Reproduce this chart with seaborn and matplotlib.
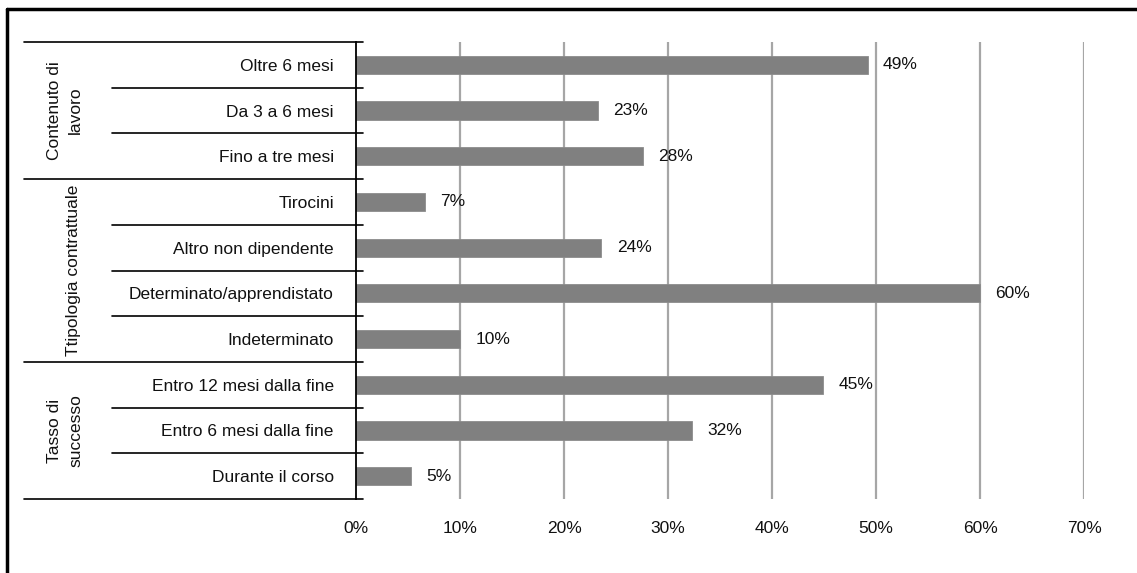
import matplotlib
matplotlib.use("Agg")
import matplotlib.pyplot as plt
import matplotlib.transforms as mtransforms
from matplotlib.lines import Line2D
import seaborn as sns
import pandas as pd

# Categories, top to bottom
categories = [
    "Oltre 6 mesi",
    "Da 3 a 6 mesi",
    "Fino a tre mesi",
    "Tirocini",
    "Altro non dipendente",
    "Determinato/apprendistato",
    "Indeterminato",
    "Entro 12 mesi dalla fine",
    "Entro 6 mesi dalla fine",
    "Durante il corso",
]
values = [0.492, 0.233, 0.276, 0.066, 0.236, 0.600, 0.100, 0.449, 0.323, 0.053]

# Group headings with the index range of rows they span
groups = ["Contenuto di\nlavoro", "Ttipologia contrattuale", "Tasso di\nsuccesso"]
group_rows = [(0, 2), (3, 6), (7, 9)]

x_ticks = [0.0, 0.1, 0.2, 0.3, 0.4, 0.5, 0.6, 0.7]
x_tick_labels = ["0%", "10%", "20%", "30%", "40%", "50%", "60%", "70%"]

sns.set_theme(style="white")
plt.rcParams["font.family"] = ["Liberation Sans", "DejaVu Sans"]

W, H = 1137, 573
fig = plt.figure(figsize=(W / 100, H / 100), dpi=100)
fig.patch.set_facecolor("white")

# axes placement in pixels
ax_l, ax_r, ax_t, ax_b = 356, 1084, 42, 499
ax = fig.add_axes([ax_l / W, 1 - ax_b / H, (ax_r - ax_l) / W, (ax_b - ax_t) / H])

df = pd.DataFrame({"cat": categories, "val": values})
sns.barplot(data=df, y="cat", x="val", order=categories, orient="h",
            color="#808080", saturation=1, width=0.4, ax=ax, zorder=3,
            edgecolor="#8c8c8c", linewidth=0.6)

ax.set_xlim(0, 0.7)
ax.set_ylim(len(categories) - 0.5, -0.5)
ax.set_xticks(x_ticks)
ax.set_xticklabels(x_tick_labels, fontsize=12.5, color="#111111")
ax.set_xlabel("")
ax.set_ylabel("")
ax.tick_params(axis="x", length=0, pad=15.5)
ax.tick_params(axis="y", length=0, pad=16, labelsize=12.5, labelcolor="#111111")

# vertical gridlines
for t in x_ticks[1:]:
    ax.axvline(t, color="#a6a6a6", lw=1.6, zorder=1)

for s in ["top", "right", "bottom"]:
    ax.spines[s].set_visible(False)
ax.spines["left"].set_color("black")
ax.spines["left"].set_linewidth(1.3)
ax.spines["left"].set_zorder(4)

# value labels
for i, v in enumerate(values):
    ax.annotate(f"{v:.0%}", xy=(v, i), xytext=(11, 0), textcoords="offset points",
                va="center", ha="left", fontsize=12.5, color="#111111", zorder=5)

# separators between rows and between groups
trans = mtransforms.blended_transform_factory(ax.transAxes, ax.transData)
x_end = (363 - ax_l) / (ax_r - ax_l)
x_inner = (112 - ax_l) / (ax_r - ax_l)
x_outer = (24 - ax_l) / (ax_r - ax_l)
group_bounds = {-0.5} | {hi + 0.5 for _, hi in group_rows}
for b in [i - 0.5 for i in range(len(categories) + 1)]:
    x0 = x_outer if b in group_bounds else x_inner
    ax.add_line(Line2D([x0, x_end], [b, b], transform=trans, color="black",
                       lw=1.2, clip_on=False, zorder=6))

# group headings, rotated
group_x = [65, 74, 65]
for name, (lo, hi), gx in zip(groups, group_rows, group_x):
    ax.text((gx - ax_l) / (ax_r - ax_l), (lo + hi) / 2, name, transform=trans,
            rotation=90, ha="center", va="center", fontsize=12.5,
            color="#111111", linespacing=1.55, multialignment="center")

# outer frame lines (top and left)
fig.add_artist(Line2D([6.5 / W, 1.0], [1 - 8.5 / H, 1 - 8.5 / H],
                      transform=fig.transFigure, color="black", lw=2.5))
fig.add_artist(Line2D([6.5 / W, 6.5 / W], [0.0, 1 - 8.5 / H],
                      transform=fig.transFigure, color="black", lw=2.5))

fig.savefig("out.png", dpi=100, facecolor="white")
